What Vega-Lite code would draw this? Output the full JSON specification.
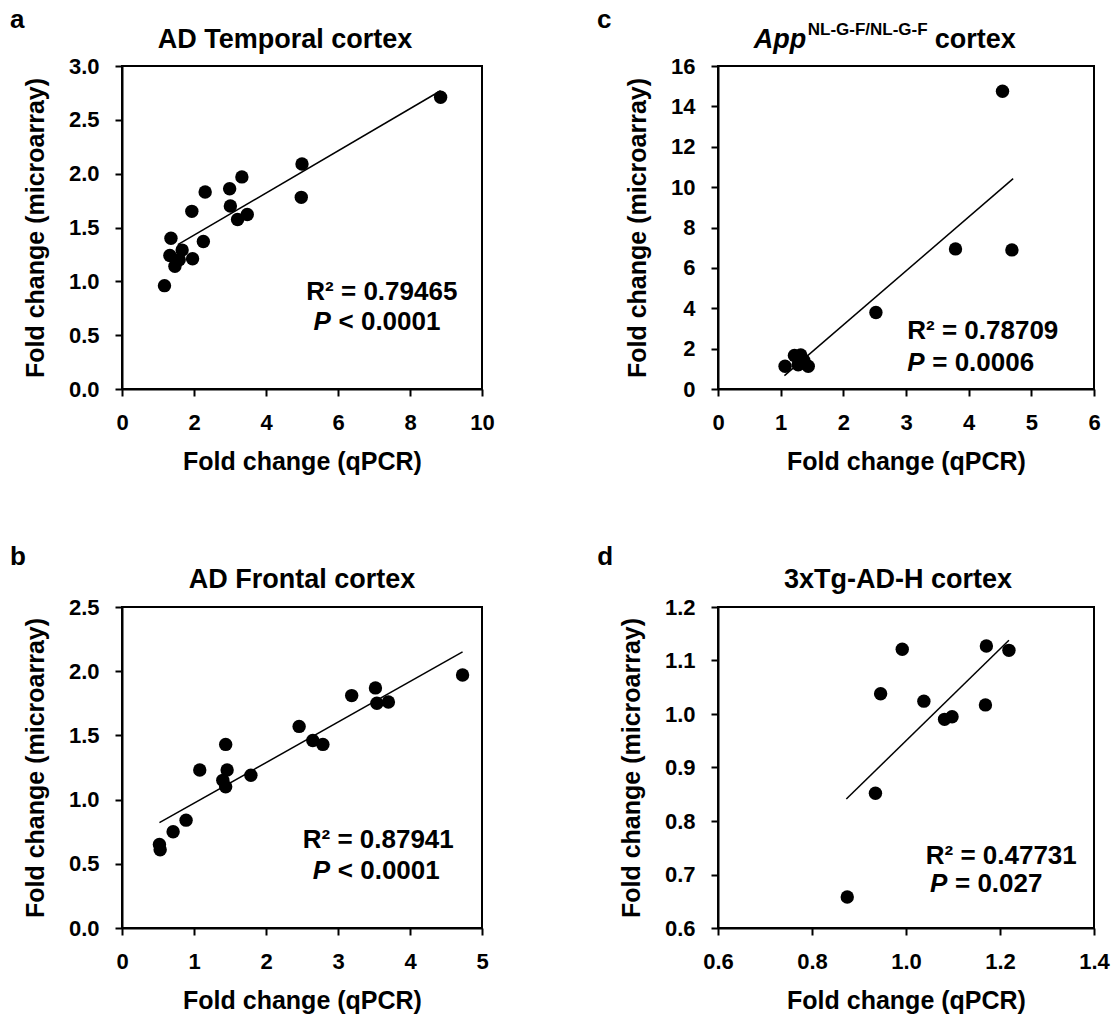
{
  "$schema": "https://vega.github.io/schema/vega-lite/v6.json",
  "background": "white",
  "padding": {"left": 8, "top": 6, "right": 5, "bottom": 5},
  "columns": 2,
  "align": "each",
  "spacing": {"row": 67, "column": 100},
  "config": {
    "font": "Liberation Sans",
    "view": {"stroke": "black", "strokeWidth": 2},
    "axis": {"grid": false, "domainColor": "black", "domainWidth": 2, "tickColor": "black", "tickWidth": 2, "tickSize": 7,
      "labelFont": "Liberation Sans", "labelFontSize": 22, "labelFontWeight": "bold", "labelColor": "black", "labelPadding": 16,
      "labelFlush": false, "labelOverlap": false,
      "titleFont": "Liberation Sans", "titleFontSize": 25, "titleFontWeight": "bold", "titleColor": "black"},
    "axisX": {"titlePadding": 16},
    "axisY": {"titlePadding": 20},
    "text": {"font": "Liberation Sans", "color": "black", "fontWeight": "bold"}
  },
  "concat": [
    {
      "width": 360, "height": 323,
      "layer": [
        {
          "data": {"values": [
            {"qpcr": 8.85, "microarray": 2.71}, {"qpcr": 5.0, "microarray": 2.09}, {"qpcr": 4.98, "microarray": 1.78},
            {"qpcr": 3.33, "microarray": 1.97}, {"qpcr": 2.99, "microarray": 1.86}, {"qpcr": 3.01, "microarray": 1.70},
            {"qpcr": 3.21, "microarray": 1.575}, {"qpcr": 3.48, "microarray": 1.62}, {"qpcr": 2.31, "microarray": 1.83},
            {"qpcr": 1.94, "microarray": 1.65}, {"qpcr": 2.26, "microarray": 1.37}, {"qpcr": 1.96, "microarray": 1.21},
            {"qpcr": 1.36, "microarray": 1.40}, {"qpcr": 1.33, "microarray": 1.24}, {"qpcr": 1.67, "microarray": 1.29},
            {"qpcr": 1.59, "microarray": 1.20}, {"qpcr": 1.47, "microarray": 1.14}, {"qpcr": 1.18, "microarray": 0.96}
          ]},
          "mark": {"type": "circle", "size": 180, "color": "black", "opacity": 1},
          "encoding": {
            "x": {"field": "qpcr", "type": "quantitative", "scale": {"domain": [0, 10], "nice": false}, "axis": {"values": [0, 2, 4, 6, 8, 10], "format": "d", "title": "Fold change (qPCR)"}},
            "y": {"field": "microarray", "type": "quantitative", "scale": {"domain": [0, 3], "nice": false}, "axis": {"values": [0, 0.5, 1, 1.5, 2, 2.5, 3], "format": ".1f", "title": "Fold change (microarray)"}}
          }
        },
        {
          "data": {"values": [{"qpcr": 1.55, "microarray": 1.34}, {"qpcr": 8.85, "microarray": 2.77}]},
          "mark": {"type": "line", "color": "black", "strokeWidth": 1.5},
          "encoding": {"x": {"field": "qpcr", "type": "quantitative"}, "y": {"field": "microarray", "type": "quantitative"}}
        },
        {
          "data": {"values": [{}]},
          "mark": {"type": "text", "align": "left", "baseline": "alphabetic", "fontSize": 26},
          "encoding": {"x": {"datum": 5.12}, "y": {"datum": 0.83}, "text": {"value": "R² = 0.79465"}}
        },
        {
          "data": {"values": [{}]},
          "mark": {"type": "text", "align": "left", "baseline": "alphabetic", "fontSize": 26, "fontStyle": "italic"},
          "encoding": {"x": {"datum": 5.32}, "y": {"datum": 0.55}, "text": {"value": "P"}}
        },
        {
          "data": {"values": [{}]},
          "mark": {"type": "text", "align": "left", "baseline": "alphabetic", "fontSize": 26, "dx": 25},
          "encoding": {"x": {"datum": 5.32}, "y": {"datum": 0.55}, "text": {"value": "< 0.0001"}}
        },
        {
          "data": {"values": [{}]},
          "mark": {"type": "text", "align": "center", "baseline": "alphabetic", "fontSize": 27, "dx": -17},
          "encoding": {"x": {"datum": 5}, "y": {"datum": 3.167}, "text": {"value": "AD Temporal cortex"}}
        },
        {
          "data": {"values": [{}]},
          "mark": {"type": "text", "align": "left", "baseline": "alphabetic", "fontSize": 26},
          "encoding": {"x": {"datum": -3.11}, "y": {"datum": 3.35}, "text": {"value": "a"}}
        }
      ]
    },
    {
      "width": 376, "height": 323,
      "layer": [
        {
          "data": {"values": [
            {"qpcr": 4.54, "microarray": 14.75}, {"qpcr": 3.79, "microarray": 6.94}, {"qpcr": 4.69, "microarray": 6.89},
            {"qpcr": 2.52, "microarray": 3.79}, {"qpcr": 1.07, "microarray": 1.13}, {"qpcr": 1.22, "microarray": 1.66},
            {"qpcr": 1.32, "microarray": 1.69}, {"qpcr": 1.28, "microarray": 1.2}, {"qpcr": 1.44, "microarray": 1.13},
            {"qpcr": 1.37, "microarray": 1.41}
          ]},
          "mark": {"type": "circle", "size": 180, "color": "black", "opacity": 1},
          "encoding": {
            "x": {"field": "qpcr", "type": "quantitative", "scale": {"domain": [0, 6], "nice": false}, "axis": {"values": [0, 1, 2, 3, 4, 5, 6], "format": "d", "title": "Fold change (qPCR)"}},
            "y": {"field": "microarray", "type": "quantitative", "scale": {"domain": [0, 16], "nice": false}, "axis": {"values": [0, 2, 4, 6, 8, 10, 12, 14, 16], "format": "d", "title": "Fold change (microarray)"}}
          }
        },
        {
          "data": {"values": [{"qpcr": 1.06, "microarray": 0.66}, {"qpcr": 4.71, "microarray": 10.42}]},
          "mark": {"type": "line", "color": "black", "strokeWidth": 1.5},
          "encoding": {"x": {"field": "qpcr", "type": "quantitative"}, "y": {"field": "microarray", "type": "quantitative"}}
        },
        {
          "data": {"values": [{}]},
          "mark": {"type": "text", "align": "left", "baseline": "alphabetic", "fontSize": 26},
          "encoding": {"x": {"datum": 3.02}, "y": {"datum": 2.46}, "text": {"value": "R² = 0.78709"}}
        },
        {
          "data": {"values": [{}]},
          "mark": {"type": "text", "align": "left", "baseline": "alphabetic", "fontSize": 26, "fontStyle": "italic"},
          "encoding": {"x": {"datum": 3.02}, "y": {"datum": 0.91}, "text": {"value": "P"}}
        },
        {
          "data": {"values": [{}]},
          "mark": {"type": "text", "align": "left", "baseline": "alphabetic", "fontSize": 26, "dx": 25},
          "encoding": {"x": {"datum": 3.02}, "y": {"datum": 0.91}, "text": {"value": "= 0.0006"}}
        },
        {
          "data": {"values": [{}]},
          "mark": {"type": "text", "align": "left", "baseline": "alphabetic", "fontSize": 26},
          "encoding": {"x": {"datum": -1.93}, "y": {"datum": 17.88}, "text": {"value": "c"}}
        },
        {
          "data": {"values": [{}]},
          "mark": {"type": "text", "align": "left", "baseline": "alphabetic", "fontSize": 27, "fontStyle": "italic"},
          "encoding": {"x": {"datum": 0.57}, "y": {"datum": 16.89}, "text": {"value": "App"}}
        },
        {
          "data": {"values": [{}]},
          "mark": {"type": "text", "align": "left", "baseline": "alphabetic", "fontSize": 17, "dx": 54, "dy": -13},
          "encoding": {"x": {"datum": 0.57}, "y": {"datum": 16.89}, "text": {"value": "NL-G-F/NL-G-F"}}
        },
        {
          "data": {"values": [{}]},
          "mark": {"type": "text", "align": "left", "baseline": "alphabetic", "fontSize": 27, "dx": 181},
          "encoding": {"x": {"datum": 0.57}, "y": {"datum": 16.89}, "text": {"value": "cortex"}}
        }
      ]
    },
    {
      "width": 360, "height": 321,
      "layer": [
        {
          "data": {"values": [
            {"qpcr": 4.73, "microarray": 1.97}, {"qpcr": 3.52, "microarray": 1.87}, {"qpcr": 3.19, "microarray": 1.81},
            {"qpcr": 3.54, "microarray": 1.75}, {"qpcr": 3.70, "microarray": 1.76}, {"qpcr": 2.46, "microarray": 1.57},
            {"qpcr": 2.65, "microarray": 1.46}, {"qpcr": 2.79, "microarray": 1.43}, {"qpcr": 1.44, "microarray": 1.43},
            {"qpcr": 1.08, "microarray": 1.23}, {"qpcr": 1.46, "microarray": 1.23}, {"qpcr": 1.40, "microarray": 1.15},
            {"qpcr": 1.44, "microarray": 1.10}, {"qpcr": 1.79, "microarray": 1.19}, {"qpcr": 0.89, "microarray": 0.84},
            {"qpcr": 0.71, "microarray": 0.75}, {"qpcr": 0.52, "microarray": 0.65}, {"qpcr": 0.53, "microarray": 0.61}
          ]},
          "mark": {"type": "circle", "size": 180, "color": "black", "opacity": 1},
          "encoding": {
            "x": {"field": "qpcr", "type": "quantitative", "scale": {"domain": [0, 5], "nice": false}, "axis": {"values": [0, 1, 2, 3, 4, 5], "format": "d", "title": "Fold change (qPCR)"}},
            "y": {"field": "microarray", "type": "quantitative", "scale": {"domain": [0, 2.5], "nice": false}, "axis": {"values": [0, 0.5, 1, 1.5, 2, 2.5], "format": ".1f", "title": "Fold change (microarray)"}}
          }
        },
        {
          "data": {"values": [{"qpcr": 0.52, "microarray": 0.82}, {"qpcr": 4.73, "microarray": 2.15}]},
          "mark": {"type": "line", "color": "black", "strokeWidth": 1.5},
          "encoding": {"x": {"field": "qpcr", "type": "quantitative"}, "y": {"field": "microarray", "type": "quantitative"}}
        },
        {
          "data": {"values": [{}]},
          "mark": {"type": "text", "align": "left", "baseline": "alphabetic", "fontSize": 26},
          "encoding": {"x": {"datum": 2.51}, "y": {"datum": 0.62}, "text": {"value": "R² = 0.87941"}}
        },
        {
          "data": {"values": [{}]},
          "mark": {"type": "text", "align": "left", "baseline": "alphabetic", "fontSize": 26, "fontStyle": "italic"},
          "encoding": {"x": {"datum": 2.65}, "y": {"datum": 0.38}, "text": {"value": "P"}}
        },
        {
          "data": {"values": [{}]},
          "mark": {"type": "text", "align": "left", "baseline": "alphabetic", "fontSize": 26, "dx": 25},
          "encoding": {"x": {"datum": 2.65}, "y": {"datum": 0.38}, "text": {"value": "< 0.0001"}}
        },
        {
          "data": {"values": [{}]},
          "mark": {"type": "text", "align": "center", "baseline": "alphabetic", "fontSize": 27},
          "encoding": {"x": {"datum": 2.5}, "y": {"datum": 2.648}, "text": {"value": "AD Frontal cortex"}}
        },
        {
          "data": {"values": [{}]},
          "mark": {"type": "text", "align": "left", "baseline": "alphabetic", "fontSize": 26},
          "encoding": {"x": {"datum": -1.556}, "y": {"datum": 2.83}, "text": {"value": "b"}}
        }
      ]
    },
    {
      "width": 376, "height": 321,
      "layer": [
        {
          "data": {"values": [
            {"qpcr": 0.992, "microarray": 1.121}, {"qpcr": 1.171, "microarray": 1.127}, {"qpcr": 1.219, "microarray": 1.119},
            {"qpcr": 0.946, "microarray": 1.038}, {"qpcr": 1.038, "microarray": 1.024}, {"qpcr": 1.169, "microarray": 1.017},
            {"qpcr": 1.082, "microarray": 0.990}, {"qpcr": 1.098, "microarray": 0.995}, {"qpcr": 0.935, "microarray": 0.852},
            {"qpcr": 0.875, "microarray": 0.658}
          ]},
          "mark": {"type": "circle", "size": 180, "color": "black", "opacity": 1},
          "encoding": {
            "x": {"field": "qpcr", "type": "quantitative", "scale": {"domain": [0.6, 1.4], "nice": false, "zero": false}, "axis": {"values": [0.6, 0.8, 1.0, 1.2, 1.4], "format": ".1f", "title": "Fold change (qPCR)"}},
            "y": {"field": "microarray", "type": "quantitative", "scale": {"domain": [0.6, 1.2], "nice": false, "zero": false}, "axis": {"values": [0.6, 0.7, 0.8, 0.9, 1.0, 1.1, 1.2], "format": ".1f", "title": "Fold change (microarray)"}}
          }
        },
        {
          "data": {"values": [{"qpcr": 0.873, "microarray": 0.841}, {"qpcr": 1.219, "microarray": 1.138}]},
          "mark": {"type": "line", "color": "black", "strokeWidth": 1.5},
          "encoding": {"x": {"field": "qpcr", "type": "quantitative"}, "y": {"field": "microarray", "type": "quantitative"}}
        },
        {
          "data": {"values": [{}]},
          "mark": {"type": "text", "align": "left", "baseline": "alphabetic", "fontSize": 26},
          "encoding": {"x": {"datum": 1.042}, "y": {"datum": 0.719}, "text": {"value": "R² = 0.47731"}}
        },
        {
          "data": {"values": [{}]},
          "mark": {"type": "text", "align": "left", "baseline": "alphabetic", "fontSize": 26, "fontStyle": "italic"},
          "encoding": {"x": {"datum": 1.051}, "y": {"datum": 0.667}, "text": {"value": "P"}}
        },
        {
          "data": {"values": [{}]},
          "mark": {"type": "text", "align": "left", "baseline": "alphabetic", "fontSize": 26, "dx": 25},
          "encoding": {"x": {"datum": 1.051}, "y": {"datum": 0.667}, "text": {"value": "= 0.027"}}
        },
        {
          "data": {"values": [{}]},
          "mark": {"type": "text", "align": "center", "baseline": "alphabetic", "fontSize": 27, "dx": -8},
          "encoding": {"x": {"datum": 1.0}, "y": {"datum": 1.2355}, "text": {"value": "3xTg-AD-H cortex"}}
        },
        {
          "data": {"values": [{}]},
          "mark": {"type": "text", "align": "left", "baseline": "alphabetic", "fontSize": 26},
          "encoding": {"x": {"datum": 0.343}, "y": {"datum": 1.2785}, "text": {"value": "d"}}
        }
      ]
    }
  ]
}
